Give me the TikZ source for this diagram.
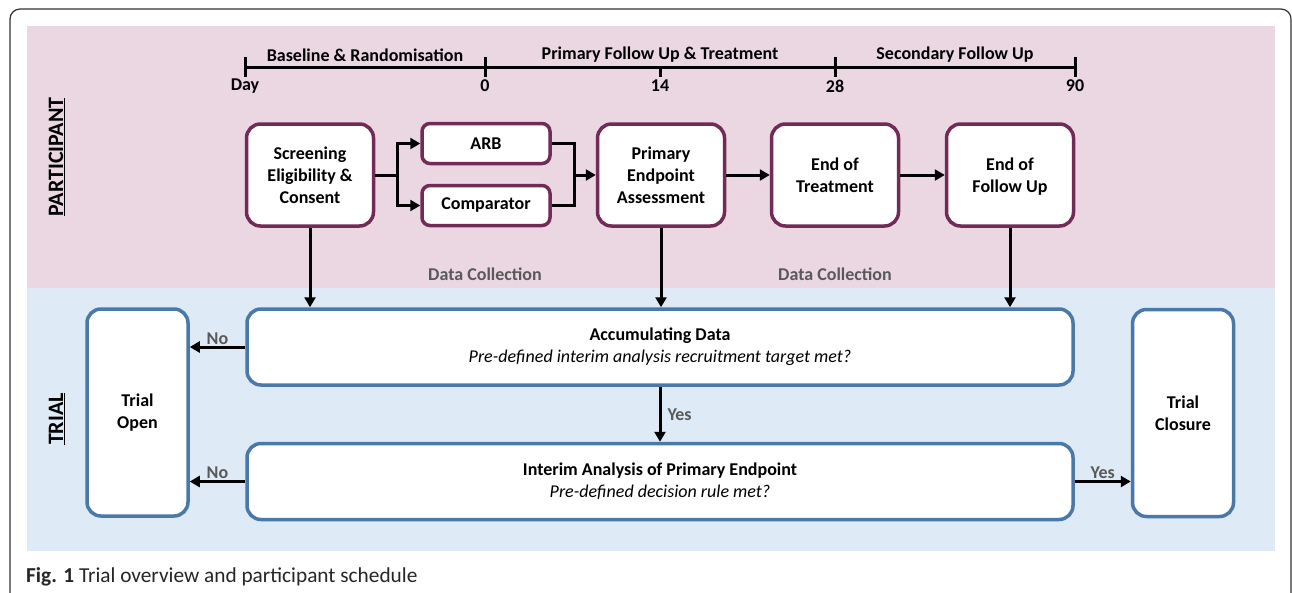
\documentclass[tikz,border=0pt]{standalone}
\usepackage{fontspec}
\setmainfont{Carlito}
\usetikzlibrary{positioning,arrows.meta}
\definecolor{partbg}{HTML}{EAD7E2}
\definecolor{trialbg}{HTML}{DEEAF6}
\definecolor{partline}{HTML}{722B57}
\definecolor{trialline}{HTML}{4A78A8}
\definecolor{labgray}{HTML}{595959}
\tikzset{
  line/.style={-{Triangle[length=10pt,width=11pt]}, line width=3pt},
  plain/.style={line width=3pt},
  box/.style={draw, fill=white, rounded corners=14pt, align=center, inner sep=3pt,
    font=\bfseries\fontsize{18}{22}\selectfont},
  pbox/.style={box, draw=partline, line width=3.5pt},
  tbox/.style={box, draw=trialline, line width=3.5pt},
  bigbox/.style={pbox, minimum width=127pt, minimum height=102pt},
  armbox/.style={pbox, rounded corners=8pt, minimum width=128pt, minimum height=40pt},
  sidebox/.style={tbox, minimum width=101pt, minimum height=207pt},
  widebox/.style={tbox, minimum width=826pt, minimum height=76pt},
  txt/.style={font=\bfseries\fontsize{18}{22}\selectfont},
  note/.style={txt, text=labgray},
  side/.style={rotate=90, font=\bfseries\fontsize{22}{26}\selectfont}
}
\begin{document}
\begin{tikzpicture}[x=1pt, y=-1pt]
  \useasboundingbox (0,0) rectangle (1292,592);
  \fill[white] (0,0) rectangle (1292,592);
  \draw[line width=1.2pt, black!80, rounded corners=10pt] (10,594) -- (10,9) -- (1291,9) -- (1291,594);
  \fill[partbg] (27,26) rectangle (1275,288);
  \fill[trialbg] (27,288) rectangle (1275,551);

  % lane titles
  \node[side] (partlab) at (57,157) {\underline{PARTICIPANT}};
  \node[side] (triallab) at (57,419) {\underline{TRIAL}};

  % timeline
  \draw[plain] (245,67) -- (1075,67);
  \foreach \x/\d in {245/Day, 485/0, 835/28, 1075/90}{
    \draw[plain] (\x,57) -- (\x,77);
    \node[txt] (day\x) at (\x,86) {\d};
  }
  \draw[plain] (660,67) -- (660,77);
  \node[txt] (day660) at (660,86) {14};
  \node[txt] (base) at (365,55) {Baseline \& Randomisation};
  \node[txt] (prim) at (660,55) {Primary Follow Up \& Treatment};
  \node[txt] (sec) at (955,55) {Secondary Follow Up};

  % participant boxes
  \node[bigbox] (S) at (310,175) {Screening\\Eligibility \&\\Consent};
  \node[armbox] (ARB) at (486,143.5) {ARB};
  \node[armbox] (Cmp) at (486,205.5) {Comparator};
  \node[bigbox] (P) at (661,175) {Primary\\Endpoint\\Assessment};
  \node[bigbox] (EoT) at (835,175) {End of\\Treatment};
  \node[bigbox] (EoF) at (1010,175) {End of\\Follow U\smash{p}};

  \draw[plain] (S.east) -- ++(22,0) coordinate (split);
  \draw[line] (split) |- (ARB.west);
  \draw[line] (split) |- (Cmp.west);
  \coordinate (merge) at (574,175);
  \draw[plain] (ARB.east) -| (merge);
  \draw[plain] (Cmp.east) -| (merge);
  \draw[line] (merge) -- (P.west);
  \draw[line] (P) -- (EoT);
  \draw[line] (EoT) -- (EoF);

  \node[note] (dc1) at (485,274) {Data Collection};
  \node[note] (dc2) at (835,274) {Data Collection};

  % trial boxes
  \node[sidebox] (Open) at (137.5,412.5) {Trial\\Open};
  \node[widebox] (Acc) at (660,347) {Accumulating Data\\{\mdseries\itshape Pre-defined interim analysis recruitment target met?}};
  \node[widebox] (Int) at (660,481.5) {Interim Analysis of Primary Endpoint\\{\mdseries\itshape Pre-defined decision rule met?}};
  \node[sidebox] (Close) at (1183,413) {Trial\\Closure};

  \draw[line] (S.south) -- (S.south |- Acc.north);
  \draw[line] (P.south) -- (P.south |- Acc.north);
  \draw[line] (EoF.south) -- (EoF.south |- Acc.north);
  \draw[line] (Acc.west) -- node[note, above, inner sep=1pt] {No} (Acc.west -| Open.east);
  \draw[line] (Int.west) -- node[note, above, inner sep=1pt] {No} (Int.west -| Open.east);
  \draw[line] (Acc.south) -- node[note, right, inner sep=6pt] {Yes} (Int.north);
  \draw[line] (Int.east) -- node[note, above, inner sep=1pt] {Yes} (Int.east -| Close.west);

  % caption
  \node[anchor=west, font=\fontsize{21.3}{25}\selectfont, text=black!85, inner sep=0pt] (cap) at (26,577)
    {\textbf{Fig. 1} Trial overview and participant schedule};
\end{tikzpicture}
\end{document}
